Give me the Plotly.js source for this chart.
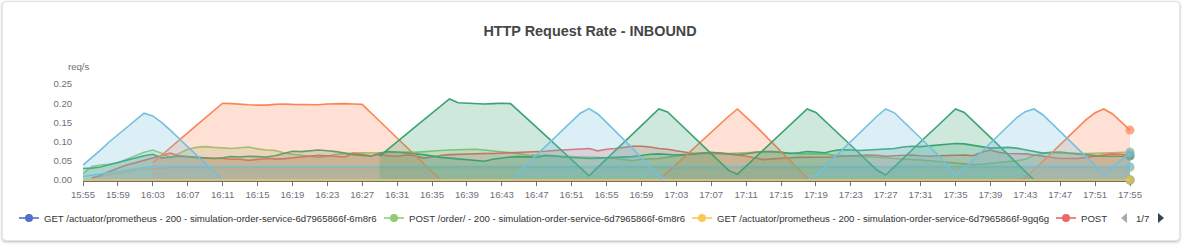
<!DOCTYPE html>
<html><head><meta charset="utf-8">
<script src="https://cdn.plot.ly/plotly-3.0.1.min.js"></script>
<style>
html,body{margin:0;padding:0;background:#fff;}
#card{position:absolute;left:2px;top:1px;width:1176px;height:238px;border:1px solid #e4e4e4;border-radius:4px;box-shadow:0 1px 3px rgba(0,0,0,0.28);background:#fff;}
#chart{position:absolute;left:0;top:0;width:1188px;height:247px;}
</style></head><body>
<div id="card"></div><div id="chart"></div>
<script>
// time axis: one sample per minute, 15:55 .. 17:55
const times = [];
for (let m = 0; m <= 120; m++) {
  const h = 15 + Math.floor((55 + m) / 60), mm = (55 + m) % 60;
  times.push('2024-01-01 ' + String(h).padStart(2, '0') + ':' + String(mm).padStart(2, '0'));
}

const legendNames = [
  'GET /actuator/prometheus - 200 - simulation-order-service-6d7965866f-6m8r6',
  'POST /order/ - 200 - simulation-order-service-6d7965866f-6m8r6',
  'GET /actuator/prometheus - 200 - simulation-order-service-6d7965866f-9gq6g',
  'POST'
];

const getActuator6m8r6 = [
0,0,0,0,0,0,0,0,0,0, 0,0,0,0,0,0,0,0,0,0, 0,0,0,0,0,0,0,0,0,0, 0,0,0,0,0,0,0,0,0,0,
0,0,0,0,0,0,0,0,0,0, 0,0,0,0,0,0,0,0,0,0, 0,0,0,0,0,0,0,0,0,0, 0,0,0,0,0,0,0,0,0,0,
0,0,0,0,0,0,0,0,0,0, 0,0,0,0,0,0,0,0,0,0, 0,0,0,0,0,0,0,0,0,0, 0,0,0,0,0,0,0,0,0,0, 0];

const postOrder6m8r6 = [
.017,.035,.039,.041,.045,.054,.064,.072,.078,.070,
.058,.068,.080,.085,.087,.085,.083,.082,.084,.086,
.081,.078,.077,.071,.067,.065,.062,.059,.062,.067,
.069,.070,.071,.070,.070,.071,.072,.073,.072,.074,
.075,.077,.078,.079,.080,.080,.078,.076,.074,.071,
.068,.065,.064,.063,.062,.061,.060,.059,.059,.059,
.058,.056,.053,.050,.054,.055,.056,.059,.062,.066,
.069,.069,.068,.068,.069,.070,.071,.071,.073,.074,
.072,.070,.068,.068,.068,.068,.065,.064,.063,.062,
.061,.059,.058,.056,.055,.053,.052,.050,.048,.046,
.044,.042,.040,.041,.043,.045,.047,.050,.054,.064,
.069,.071,.070,.069,.069,.069,.069,.070,.071,.072,
.073];

const getActuator9gq6g = [
0,0,0,0,0,0,0,0,0,0, 0,0,0,0,0,0,0,0,0,0, 0,0,0,0,0,0,0,0,0,0, 0,0,0,0,0,0,0,0,0,0,
0,0,0,0,0,0,0,0,0,0, 0,0,0,0,0,0,0,0,0,0, 0,0,0,0,0,0,0,0,0,0, 0,0,0,0,0,0,0,0,0,0,
0,0,0,0,0,0,0,0,0,0, 0,0,0,0,0,0,0,0,0,0, 0,0,0,0,0,0,0,0,0,0, 0,0,0,0,0,0,0,0,0,0, 0];

const getActuatorRising = [
null,.006,.010,.014,.018,.022,.025,.028,.030,.031,
.032,.032,.032,.032,.032,.032,.032,.032,.032,.032,
.032,.032,.032,.032,.032,.032,.032,.032,.032,.032,
.032,.032,.032,.032,.032,.032,.032,.032,.032,.032,
.032,.032,.032,.032,.032,.032,.032,.032,.032,.032,
.032,.032,.032,.032,.032,.032,.032,.032,.032,.032,
.032,.032,.032,.032,.032,.032,.032,.032,.032,.032,
.032,.032,.032,.032,.032,.032,.032,.032,.032,.032,
.032,.032,.032,.032,.032,.032,.032,.032,.032,.032,
.032,.032,.032,.032,.032,.032,.032,.032,.032,.032,
.032,.032,.032,.032,.032,.032,.032,.032,.032,.032,
.032,.032,.032,.032,.032,.032,.032,.032,.032,.032,
.032];

const postRed = [
null,.005,.012,.022,.031,.039,.045,.051,.057,.064,
.070,.063,.060,.058,.057,.057,.056,.054,.054,.051,
.053,.056,.055,.055,.058,.060,.062,.064,.063,.061,
.060,.070,.066,.063,.066,.063,.062,.065,.063,.057,
.060,.064,.066,.067,.068,.069,.069,.069,.070,.070,
.071,.072,.074,.075,.077,.078,.079,.080,.082,.076,
.080,.082,.085,.088,.088,.086,.082,.080,.076,.072,
.069,.070,.071,.070,.068,.065,.062,.058,.053,.055,
.057,.058,.059,.059,.059,.059,.060,.062,.063,.064,
.065,.064,.062,.063,.064,.065,.063,.062,.063,.064,
.065,.065,.063,.072,.078,.072,.069,.068,.068,.065,
.062,.059,.056,.056,.056,.059,.062,.065,.068,.067,
.065];

const darkGreenSteady = [
.030,.031,.034,.040,.046,.051,.058,.063,.067,.057,
.060,.062,.061,.059,.058,.056,.058,.061,.060,.062,
.061,.060,.063,.068,.075,.074,.076,.078,.076,.074,
.070,.066,.064,.062,.070,.074,.073,.070,.068,.066,
.062,.059,.057,.055,.053,.051,.049,.054,.057,.060,
.061,.060,.059,.064,.063,.060,.059,.057,.056,.057,
.058,.059,.060,.061,.064,.067,.068,.066,.065,.066,
.067,.070,.072,.070,.068,.066,.068,.072,.074,.074,
.072,.069,.071,.074,.073,.071,.076,.079,.078,.077,
.078,.079,.080,.082,.086,.088,.087,.089,.091,.093,
.095,.094,.090,.086,.083,.084,.085,.083,.078,.074,
.070,.072,.073,.070,.068,.066,.064,.062,.062,.062,
.062];

const orangeWave = [
null,null,null,null,null,null,null,null,.045,.065,
.084,.104,.123,.142,.161,.181,.200,.199,.197,.196,
.195,.195,.197,.198,.197,.197,.196,.196,.198,.199,
.199,.198,.197,.175,.153,.131,.109,.087,.065,.043,
.021,0,0,0,0,0,0,0,0,0,
0,0,0,0,0,0,0,0,0,0,
0,0,0,0,0,0,0,.020,.041,.062,
.083,.104,.124,.145,.166,.185,.165,.143,.120,.097,
.074,.051,.028,.005,0,0,0,0,0,0,
0,0,0,0,0,0,0,0,0,0,
0,0,0,0,0,0,0,0,.005,.026,
.048,.070,.092,.114,.136,.158,.175,.185,.172,.152,
.130];

const lightBlueSteady = [
.009,.012,.016,.019,.022,.026,.029,.032,.035,.035,
.035,.035,.035,.035,.035,.035,.035,.035,.035,.035,
.035,.035,.035,.035,.035,.035,.035,.035,.035,.035,
.035,.035,.035,.035,.035,.035,.035,.035,.035,.035,
.035,.035,.035,.035,.035,.035,.035,.035,.035,.035,
.035,.035,.035,.035,.035,.035,.035,.035,.035,.035,
.035,.035,.035,.035,.035,.035,.035,.035,.035,.035,
.035,.035,.035,.035,.035,.035,.035,.035,.035,.035,
.035,.035,.035,.035,.035,.035,.035,.035,.035,.035,
.035,.035,.035,.035,.035,.035,.035,.035,.035,.035,
.035,.035,.035,.035,.035,.035,.035,.035,.035,.035,
.035,.035,.035,.035,.035,.035,.035,.035,.035,.035,
.035];

const darkGreenWave = [
null,null,null,null,null,null,null,null,null,null,
null,null,null,null,null,null,null,null,null,null,
null,null,null,null,null,null,null,null,null,null,
null,null,null,null,.062,.080,.099,.118,.137,.156,
.175,.193,.211,.201,.200,.199,.198,.199,.200,.199,
.179,.158,.137,.116,.095,.074,.053,.032,.011,.033,
.055,.077,.099,.121,.143,.165,.185,.177,.155,.133,
.111,.089,.067,.045,.025,.015,.036,.057,.079,.100,
.121,.142,.164,.185,.176,.155,.133,.111,.090,.069,
.047,.026,.013,.035,.056,.078,.099,.121,.142,.164,
.185,.176,.155,.133,.111,.089,.067,.045,.022,0,
0,0,0,0,0,0,0,0,0,0,
0];

const lightBlueWave = [
.039,.058,.078,.099,.118,.137,.157,.174,.167,.150,
.130,.108,.087,.065,.043,.021,0,0,0,0,
0,0,0,0,0,0,0,0,0,0,
0,0,0,0,0,0,0,0,0,0,
0,0,0,0,0,0,0,0,0,0,
.022,.044,.066,.088,.110,.132,.154,.174,.186,.172,
.150,.128,.105,.082,.058,.034,.011,0,0,0,
0,0,0,0,0,0,0,0,0,0,
0,0,0,0,.012,.034,.056,.078,.100,.122,
.144,.166,.185,.175,.153,.131,.109,.087,.065,.040,
.012,.030,.052,.074,.096,.118,.140,.162,.178,.185,
.170,.148,.126,.104,.082,.060,.038,.016,.035,.052,
.070];

const yellowFloor = [
0,0,0,0,0,0,0,0,0,0, 0,0,0,0,0,0,0,0,0,0, 0,0,0,0,0,0,0,0,0,0, 0,0,0,0,0,0,0,0,0,0,
0,0,0,0,0,0,0,0,0,0, 0,0,0,0,0,0,0,0,0,0, 0,0,0,0,0,0,0,0,0,0, 0,0,0,0,0,0,0,0,0,0,
0,0,0,0,0,0,0,0,0,0, 0,0,0,0,0,0,0,0,0,0, 0,0,0,0,0,0,0,0,0,0, 0,0,0,0,0,0,0,0,0,0, 0];

const C = {blue:'#5470c6', lgreen:'#91cc75', yellow:'#fac858', red:'#ee6666', lblue:'#73c0de', dgreen:'#3ba272', orange:'#fc8452'};
function rgba(hex, a){ const n=parseInt(hex.slice(1),16); return 'rgba('+(n>>16)+','+((n>>8)&255)+','+(n&255)+','+a+')'; }
function series(name, y, color, fill){
  const last = y.length - 1;
  return {type:'scatter', mode:'lines+markers', x:times, y:y, name:name,
    line:{color:color, width:1.6}, marker:{color:color, size:y.map((v,i)=> i===last ? 9 : 0), line:{width:0}},
    fill: fill ? 'tozeroy' : 'none', fillcolor: rgba(color, 0.25), connectgaps:false,
    cliponaxis:false, showlegend:false, hoverinfo:'skip'};
}

const data = [
  series(legendNames[0], getActuator6m8r6, C.blue, true),
  series(legendNames[1], postOrder6m8r6, C.lgreen, true),
  series(legendNames[2], getActuatorRising, C.yellow, true),
  series(legendNames[3], postRed, C.red, true),
  series('dgreen-steady', darkGreenSteady, C.dgreen, true),
  series('orange', orangeWave, C.orange, true),
  series('lblue-steady', lightBlueSteady, C.lblue, true),
  series('dgreen-wave', darkGreenWave, C.dgreen, true),
  series('lblue-wave', lightBlueWave, C.lblue, true),
  series('yellow-floor', yellowFloor, C.yellow, false)
];

// pixel -> paper helpers (plot area: x 83..1130, y 84..181)
const PL=83, PW=1047, PB=181, PH=97;
const px = v => (v - PL) / PW;
const py = v => (PB - v) / PH;
const FONT = 'Liberation Sans, Arial, Helvetica, sans-serif';
const LY = 218;

const shapes = [], annotations = [];
const legendItems = [
  {x:19, color:C.blue, text:legendNames[0]},
  {x:384, color:C.lgreen, text:legendNames[1]},
  {x:692, color:C.yellow, text:legendNames[2]},
  {x:1056, color:C.orange === '' ? '' : C.red, text:legendNames[3]}
];
legendItems.forEach(it => {
  shapes.push({type:'line', xref:'paper', yref:'paper', x0:px(it.x), x1:px(it.x+20), y0:py(LY), y1:py(LY), line:{color:it.color, width:1.6}});
  shapes.push({type:'circle', xref:'paper', yref:'paper', x0:px(it.x+10-4), x1:px(it.x+10+4), y0:py(LY+4), y1:py(LY-4), fillcolor:it.color, line:{width:0}});
  annotations.push({xref:'paper', yref:'paper', x:px(it.x+24), y:py(LY), xanchor:'left', yanchor:'middle', text:it.text, showarrow:false, borderpad:0, font:{family:FONT, size:9.6, color:'#333333'}});
});
// pager
shapes.push({type:'path', xref:'paper', yref:'paper', path:'M '+px(1127)+' '+py(213)+' L '+px(1121)+' '+py(218)+' L '+px(1127)+' '+py(223)+' Z', fillcolor:'#aaaaaa', line:{width:0}});
shapes.push({type:'path', xref:'paper', yref:'paper', path:'M '+px(1158)+' '+py(213)+' L '+px(1164)+' '+py(218)+' L '+px(1158)+' '+py(223)+' Z', fillcolor:'#2f4554', line:{width:0}});
annotations.push({xref:'paper', yref:'paper', x:px(1142.5), y:py(LY), xanchor:'center', yanchor:'middle', text:'1/7', showarrow:false, borderpad:0, font:{family:FONT, size:9.6, color:'#333333'}});
// axis name
annotations.push({xref:'paper', yref:'paper', x:px(79), y:py(66), xanchor:'center', yanchor:'middle', text:'req/s', showarrow:false, borderpad:0, font:{family:FONT, size:9.6, color:'#6E7079'}});

const layout = {
  width:1188, height:247,
  margin:{l:PL, r:1188-PL-PW, t:84, b:247-PB},
  paper_bgcolor:'rgba(0,0,0,0)', plot_bgcolor:'rgba(0,0,0,0)',
  showlegend:false,
  title:{text:'HTTP Request Rate - INBOUND', font:{family:FONT, size:14.4, color:'#464646', weight:'bold'},
    xref:'container', x:590/1188, xanchor:'center', yref:'container', y:1-31/247, yanchor:'middle'},
  xaxis:{type:'date', range:[times[0], times[120]], tick0:times[0], dtick:240000, tickformat:'%H:%M',
    ticks:'outside', ticklen:4, tickwidth:1, tickcolor:'#6E7079', showline:true, linecolor:'#6E7079', linewidth:1,
    showgrid:false, zeroline:false, layer:'below traces', fixedrange:true,
    tickfont:{family:FONT, size:9.6, color:'#6E7079'}},
  yaxis:{range:[-1/384, 0.25], tick0:0, dtick:0.05, tickformat:'.2f',
    ticks:'outside', ticklen:8, tickcolor:'rgba(0,0,0,0)', showgrid:false, zeroline:false, showline:false, fixedrange:true,
    tickfont:{family:FONT, size:9.6, color:'#6E7079'}},
  shapes:shapes, annotations:annotations
};

Plotly.newPlot('chart', data, layout, {displayModeBar:false, staticPlot:true});
</script></body></html>
